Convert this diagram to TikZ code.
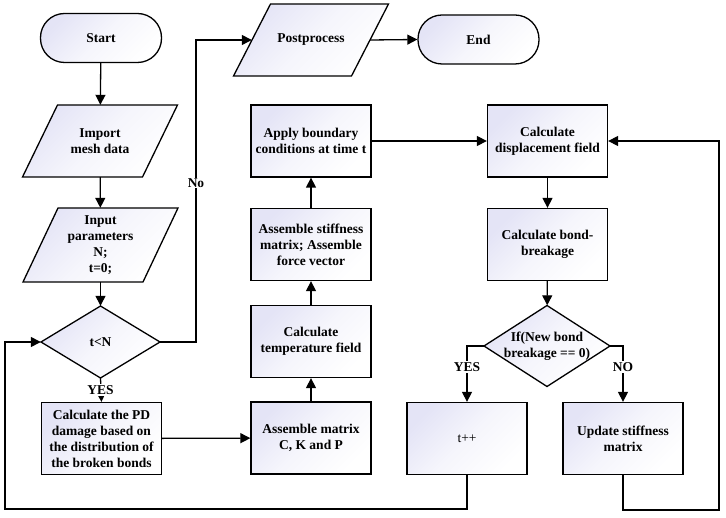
\documentclass[tikz,border=0pt]{standalone}
\usepackage{fontspec}
\setmainfont{Liberation Serif}
\usetikzlibrary{arrows.meta}
\definecolor{lav}{RGB}{228,228,246}
\newcommand\paral[7]{%
  \path[shp] ({#2-#4/2+#6/2},{#3-#5/2}) -- ({#2+#4/2+#6/2},{#3-#5/2}) -- ({#2+#4/2-#6/2},{#3+#5/2}) -- ({#2-#4/2-#6/2},{#3+#5/2}) -- cycle;
  \node[minimum width=#4pt, minimum height=#5pt, inner sep=0pt] (#1) at (#2,#3) {#7};}
\newcommand\diam[6]{%
  \path[shp] ({#2-#4/2},#3) -- (#2,{#3-#5/2}) -- ({#2+#4/2},#3) -- (#2,{#3+#5/2}) -- cycle;
  \node[minimum width=#4pt, minimum height=#5pt, inner sep=0pt] (#1) at (#2,#3) {#6};}
\begin{document}
\begin{tikzpicture}[x=1pt,y=-1pt,
  every node/.style={font=\bfseries\fontsize{13.5}{16}\selectfont, align=center},
  gfill/.style={top color=lav, bottom color=white, middle color=lav!35!white, shading angle=45},
  shp/.style={draw, line width=1.3pt, gfill},
  box/.style={shp, rectangle, minimum width=120pt, minimum height=72pt, inner sep=1pt},
  term/.style={shp, rectangle, rounded corners=24pt, minimum width=121pt, minimum height=49pt},
  arr/.style={line width=1.3pt, -{Triangle[length=10pt,width=10pt]}},
  lbl/.style={fill=white, inner sep=1pt}
]
\useasboundingbox (0,0) rectangle (726,518);

% left column
\node[term] (start) at (101,38) {Start};
\paral{import}{100}{141}{120}{72}{35}{Import\\mesh data}
\paral{input}{100.5}{245}{120}{74}{35}{Input\\parameters\\N;\\t=0;}
\diam{tn}{100.5}{342}{119}{72}{t<N}
\node[box] (pd) at (101.5,438.5) {Calculate the PD\\damage based on\\the distribution of\\the broken bonds};

% middle column
\paral{post}{311}{40}{118}{72}{37}{Postprocess}
\node[term] (end) at (478.5,39.5) {End};
\node[box] (bc) at (311,141) {Apply boundary\\conditions at time t};
\node[box] (stiff) at (311,244.5) {Assemble stiffness\\matrix; Assemble\\force vector};
\node[box] (temp) at (311,341.5) {Calculate\\temperature field};
\node[box] (asm) at (311,438) {Assemble matrix\\C, K and P};

% right column
\node[box] (disp) at (547.5,141) {Calculate\\displacement field};
\node[box] (bond) at (547.5,244.5) {Calculate bond-\\breakage};
\diam{ifd}{547}{346}{126}{81}{If(New bond\\breakage == 0)}
\node[box] (tpp) at (467,438.5) {\mdseries t++};
\node[box] (upd) at (623,438.5) {Update stiffness\\matrix};

% helper coordinates
\coordinate (nb) at (196,342);
\coordinate (lb) at (5,509);
\coordinate (rb) at (719,510);

% connectors
\draw[arr] (start) -- (import);
\draw[arr] (import) -- (input);
\draw[arr] (input) -- (tn);
\draw[arr] (tn.south) -- (pd.north);
\node[lbl] (yes1) at (100.5,390) {YES};
\draw[arr] (pd) -- (asm);
\draw[arr] (asm) -- (temp);
\draw[arr] (temp) -- (stiff);
\draw[arr] (stiff) -- (bc);
\draw[arr] (bc) -- (disp);
\draw[arr] (disp) -- (bond);
\draw[arr] (bond) -- (ifd);
\draw[arr] (ifd.west) -| (tpp.north);
\node[lbl] (yes2) at (467,367) {YES};
\draw[arr] (ifd.east) -| (upd.north);
\node[lbl] (no2) at (623,367) {NO};
\draw[arr] (tpp.south) |- (lb) |- (tn.west);
\draw[arr] (upd.south) |- (rb) |- (disp.east);
\draw[arr] (tn.east) -- (nb) |- (post.west);
\node[lbl] (no1) at (196,183) {No};
\draw[arr] (post.east) -- (end.west);
\end{tikzpicture}
\end{document}
